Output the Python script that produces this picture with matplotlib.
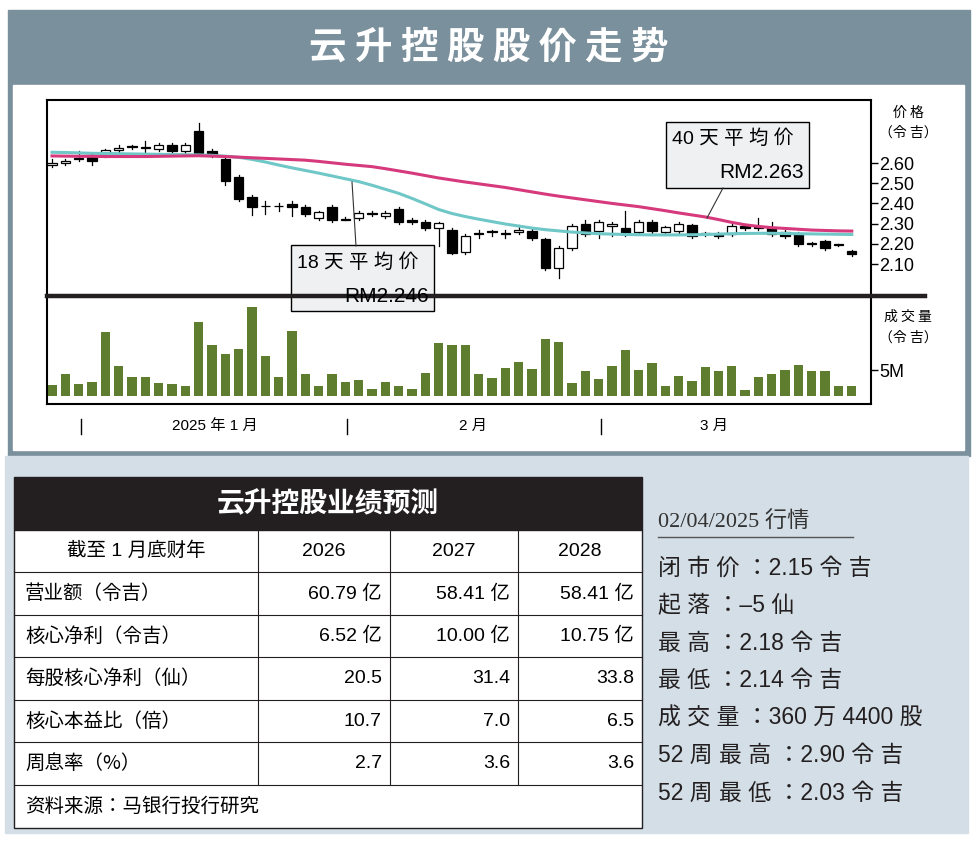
import matplotlib
matplotlib.use("Agg")
import matplotlib.pyplot as plt
from matplotlib.patches import Rectangle
import numpy as np

CJK = ["Noto Sans CJK SC", "Noto Sans CJK JP", "Noto Sans CJK TC", "Noto Sans CJK KR", "DejaVu Sans"]
plt.rcParams["font.family"] = CJK
SANS = ["Liberation Sans"] + CJK
SERIF = ["Liberation Serif"] + CJK

W, H = 979, 846

# ---------------- data ----------------
opens = [2.59,2.60,2.62,2.64,2.64,2.665,2.68,2.675,2.67,2.69,2.66,2.76,2.66,2.62,2.53,2.43,2.385,2.385,2.395,2.38,
         2.33,2.38,2.32,2.33,2.35,2.34,2.37,2.32,2.31,2.28,2.27,2.16,2.25,2.26,2.25,2.26,2.265,2.225,2.08,2.18,
         2.30,2.265,2.29,2.28,2.26,2.31,2.26,2.265,2.295,2.25,2.25,2.25,2.29,2.28,2.28,2.26,2.25,2.20,2.215,2.195,2.165]
closes = [2.60,2.61,2.62,2.61,2.665,2.675,2.68,2.675,2.69,2.66,2.69,2.65,2.64,2.51,2.42,2.38,2.385,2.385,2.38,2.35,
          2.355,2.32,2.32,2.35,2.35,2.35,2.31,2.31,2.28,2.305,2.155,2.24,2.25,2.26,2.25,2.27,2.23,2.08,2.18,2.29,
          2.25,2.31,2.30,2.25,2.31,2.265,2.285,2.30,2.24,2.25,2.24,2.29,2.28,2.28,2.25,2.24,2.20,2.20,2.18,2.195,2.15]
highs = [2.62,2.62,2.66,2.65,2.67,2.69,2.69,2.71,2.70,2.70,2.70,2.80,2.67,2.63,2.54,2.44,2.41,2.40,2.41,2.39,
         2.36,2.39,2.335,2.36,2.36,2.36,2.38,2.33,2.32,2.31,2.28,2.25,2.27,2.27,2.27,2.295,2.28,2.23,2.19,2.30,
         2.32,2.32,2.31,2.36,2.32,2.32,2.29,2.31,2.30,2.26,2.26,2.30,2.30,2.33,2.31,2.27,2.26,2.21,2.22,2.20,2.17]
lows = [2.58,2.59,2.61,2.59,2.63,2.65,2.67,2.64,2.66,2.65,2.64,2.64,2.63,2.49,2.41,2.345,2.35,2.36,2.34,2.34,
        2.32,2.31,2.32,2.32,2.34,2.33,2.30,2.30,2.27,2.19,2.15,2.15,2.23,2.24,2.23,2.25,2.22,2.07,2.03,2.17,
        2.24,2.23,2.24,2.24,2.25,2.25,2.25,2.25,2.23,2.24,2.23,2.24,2.27,2.27,2.24,2.23,2.19,2.19,2.17,2.19,2.14]
volumes = [2.1,4.2,2.3,2.7,12.5,5.9,3.7,3.7,2.6,2.3,2.0,14.4,9.9,8.3,9.2,17.5,7.9,3.7,12.7,4.2,
           2.0,4.3,2.7,3.1,1.3,2.7,2.0,1.3,4.5,10.4,9.9,9.9,4.3,3.6,5.5,6.7,5.3,11.2,10.5,2.5,
           4.9,3.4,5.8,9.0,5.1,6.5,2.0,3.9,3.0,5.7,4.9,5.9,1.1,3.7,4.3,5.1,6.1,4.9,4.9,2.0,2.0]
ma40 = [2.635,2.634,2.633,2.633,2.632,2.632,2.632,2.632,2.633,2.634,2.635,2.636,
        2.634,2.632,2.629,2.626,2.623,2.620,2.617,2.614,
        2.608,2.601,2.594,2.588,2.582,2.572,2.561,2.550,2.538,2.526,
        2.516,2.506,2.497,2.488,2.479,2.468,2.457,2.446,2.436,2.427,
        2.418,2.409,2.400,2.392,2.384,2.374,2.364,2.353,2.343,2.333,
        2.320,2.306,2.294,2.286,2.280,2.276,2.272,2.268,2.266,2.264,2.263]
ma18 = [2.653,2.652,2.650,2.648,2.647,2.646,2.645,2.644,2.643,2.642,2.641,2.640,
        2.638,2.634,2.628,2.618,2.605,2.590,
        2.576,2.563,2.550,2.536,2.522,2.508,2.490,2.470,2.450,2.425,2.398,2.370,
        2.350,2.335,2.322,2.310,2.298,2.288,2.278,2.270,2.264,2.258,
        2.254,2.250,2.248,2.246,2.245,2.244,2.244,2.244,2.245,2.246,2.248,2.250,2.251,2.252,2.252,
        2.251,2.250,2.249,2.248,2.247,2.246]
price_ticks = [2.60, 2.50, 2.40, 2.30, 2.20, 2.10]
month_labels = ["2025 年 1 月", "2 月", "3 月"]

table_title = "云升控股业绩预测"
table_header = ["截至 1 月底财年", "2026", "2027", "2028"]
table_rows = [
    ["营业额（令吉）", "60.79 亿", "58.41 亿", "58.41 亿"],
    ["核心净利（令吉）", "6.52 亿", "10.00 亿", "10.75 亿"],
    ["每股核心净利（仙）", "20.5", "31.4", "33.8"],
    ["核心本益比（倍）", "10.7", "7.0", "6.5"],
    ["周息率（%）", "2.7", "3.6", "3.6"],
]
table_source = "资料来源：马银行投行研究"
info_title = "02/04/2025 行情"
info_lines = ["闭 市 价 ：2.15 令 吉", "起 落 ：–5 仙", "最 高 ：2.18 令 吉", "最 低 ：2.14 令 吉",
              "成 交 量 ：360 万 4400 股", "52 周 最 高 ：2.90 令 吉", "52 周 最 低 ：2.03 令 吉"]

# ---------------- figure ----------------
fig = plt.figure(figsize=(W / 100, H / 100), dpi=100)
bg = fig.add_axes([0, 0, 1, 1])
bg.set_xlim(0, W); bg.set_ylim(H, 0); bg.axis("off")

def rect(x0, y0, x1, y1, **kw):
    bg.add_patch(Rectangle((x0, y0), x1 - x0, y1 - y0, **kw))

rect(0, 0, W, H, color="white")
rect(8, 10, 970, 456, color="#7a909c")
rect(13, 85, 964, 450, color="white")
rect(5, 456, 968, 833, color="#d3dee6")
bg.text(489, 47, "云 升 控 股 股 价 走 势", color="white", fontsize=27, fontweight="bold",
        ha="center", va="center")

# table
tx0, tx1 = 14, 642
rect(tx0, 477, tx1, 530, color="#231f20")
bg.text((tx0 + tx1) / 2, 504, table_title, color="white", fontsize=20, fontweight="bold",
        ha="center", va="center")
rect(tx0, 530, tx1, 828, facecolor="white", edgecolor="#231f20", lw=1)
row_y = [530, 572, 615, 657, 700, 742, 785, 828]
col_x = [tx0, 258, 390, 518, tx1]
for y in row_y[1:-1]:
    bg.plot([tx0, tx1], [y, y], color="#231f20", lw=0.8)
for x in col_x[1:-1]:
    bg.plot([x, x], [530, 785], color="#231f20", lw=0.8)
fs = 14
for j, t in enumerate(table_header):
    bg.text((col_x[j] + col_x[j + 1]) / 2, 551, t, fontsize=fs, ha="center", va="center",
            family=SANS)
for i, row in enumerate(table_rows):
    yc = (row_y[i + 1] + row_y[i + 2]) / 2
    bg.text(25, yc, row[0], fontsize=fs, ha="left", va="center")
    for j in range(1, 4):
        bg.text(col_x[j + 1] - 8, yc, row[j], fontsize=fs, ha="right", va="center", family=SANS)
bg.text(25, 806, table_source, fontsize=fs, ha="left", va="center")

# info
bg.text(658, 522, info_title, fontsize=16, family=SERIF, ha="left", va="center", color="#333333")
bg.plot([658, 853], [537, 537], color="#555555", lw=1)
for k, s in enumerate(info_lines):
    bg.text(658, 568 + k * 37.5, s, fontsize=16.5, ha="left", va="center", color="#231f20",
            family=SANS)

# ---------------- chart axes ----------------
def ax_rect(l, t, r, b):
    return [l / W, 1 - b / H, (r - l) / W, (b - t) / H]

x = np.arange(len(closes))
step = 13.33
xl = ((47 - 52) / step, (871 - 52) / step)

axp = fig.add_axes(ax_rect(47, 100, 871, 296))
axp.set_xlim(*xl)
axp.set_ylim(2.60 - (296 - 163) / 202, 2.60 + (163 - 100) / 202)
for i in x:
    o, c, h, l = opens[i], closes[i], highs[i], lows[i]
    axp.plot([i, i], [l, h], color="black", lw=0.9, zorder=2)
    bottom, top = min(o, c), max(o, c)
    hgt = max(top - bottom, 0.004)
    fc = "black" if c <= o else "white"
    axp.add_patch(Rectangle((i - 0.35, bottom), 0.7, hgt, facecolor=fc, edgecolor="black",
                            lw=0.9, zorder=3))
axp.plot(x, ma18, color="#6fc7c7", lw=2.2, zorder=4)
axp.plot(x, ma40, color="#d63a7d", lw=2.2, zorder=4)
axp.set_xticks([])
axp.yaxis.tick_right()
axp.set_yticks(price_ticks)
axp.set_yticklabels([f"{v:.2f}" for v in price_ticks], fontsize=13, family="Liberation Sans")
axp.tick_params(axis="y", length=5, width=1, pad=1)
for s in axp.spines.values():
    s.set_linewidth(1.5)
axp.spines["bottom"].set_visible(False)

axv = fig.add_axes(ax_rect(47, 298, 871, 404))
axv.set_xlim(*xl)
axv.set_ylim(-1.6, 19.2)
axv.bar(x, volumes, width=0.7, color="#5e7d2f")
axv.set_xticks([])
axv.yaxis.tick_right()
axv.set_yticks([5])
axv.set_yticklabels(["5M"], fontsize=13, family="Liberation Sans")
axv.tick_params(axis="y", length=5, width=1, pad=1)
for s in axv.spines.values():
    s.set_linewidth(1.5)
axv.spines["top"].set_visible(False)

# separator and labels (overlay)
ov = fig.add_axes([0, 0, 1, 1], facecolor="none")
ov.set_xlim(0, W); ov.set_ylim(H, 0); ov.axis("off")
ov.plot([47, 925], [296, 296], color="#231f20", lw=3.2)
ov.text(908, 113, "价 格", fontsize=10, ha="center", va="center")
ov.text(908, 133, "（令 吉）", fontsize=10, ha="center", va="center")
ov.text(908, 317, "成 交 量", fontsize=10, ha="center", va="center")
ov.text(908, 338, "（令 吉）", fontsize=10, ha="center", va="center")
for xm in [81, 347, 601]:
    ov.plot([xm, xm], [419, 434], color="black", lw=1)
for xm, lab in zip([215, 473, 714], month_labels):
    ov.text(xm, 426, lab, fontsize=11, ha="center", va="center", family=SANS)

# callouts
ov.plot([352, 356], [182, 246], color="#333333", lw=0.8)
ov.add_patch(Rectangle((291, 245), 143, 66, facecolor="#eef0f2", edgecolor="black", lw=1))
ov.text(297, 263, "18 天 平 均 价", fontsize=14, ha="left", va="center", family=SANS)
ov.text(429, 296, "RM2.246", fontsize=15, ha="right", va="center", family="Liberation Sans")
ov.plot([723, 707], [188, 218], color="#333333", lw=0.8)
ov.add_patch(Rectangle((666, 122), 143, 66, facecolor="#eef0f2", edgecolor="black", lw=1))
ov.text(672, 139, "40 天 平 均 价", fontsize=14, ha="left", va="center", family=SANS)
ov.text(804, 172, "RM2.263", fontsize=15, ha="right", va="center", family="Liberation Sans")

fig.savefig("out.png", dpi=100)
